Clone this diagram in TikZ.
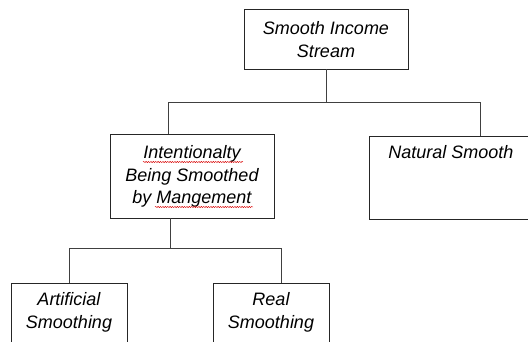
\documentclass[tikz,border=0pt]{standalone}
\usepackage{fontspec}
\setmainfont{Liberation Sans}
\usetikzlibrary{decorations.pathmorphing}
\begin{document}
\begin{tikzpicture}[x=1pt,y=-1pt,
  box/.style={draw=black!85, line width=0.9pt, inner sep=0pt, fill=white},
  txt/.style={anchor=north, inner sep=0pt, align=center,
    font=\fontsize{18}{22.5}\selectfont\itshape},
  link/.style={draw=black!75, line width=0.9pt},
  spell/.style={draw=red!85!black, line width=0.45pt,
    decorate, decoration={snake, amplitude=0.6pt, segment length=2.4pt}}]
\useasboundingbox (0,0) rectangle (528,342);
\clip (0,0) rectangle (528,342);
\node[box, minimum width=164pt, minimum height=60pt] (top) at (326,39) {};
\node[box, minimum width=164pt, minimum height=84pt] (mid) at (192,176) {};
\node[box, minimum width=164pt, minimum height=83pt] (nat) at (451,177.5) {};
\node[box, minimum width=116pt, minimum height=64pt] (art) at (69,315) {};
\node[box, minimum width=116pt, minimum height=64pt] (real) at (271,315) {};
\node[txt] (toptext) at ([yshift=-13pt]top.north) {Smooth Income\\Stream};
\node[txt] (midtext) at ([yshift=-12pt]mid.north) {Intentionalty\\Being Smoothed\\by Mangement};
\node[txt] (nattext) at ([yshift=-10pt]nat.north) {Natural Smooth};
\node[txt] (arttext) at ([yshift=-10pt]art.north) {Artificial\\Smoothing};
\node[txt] (realtext) at ([yshift=-10pt]real.north) {Real\\Smoothing};
\coordinate (w1a) at (143,162); \coordinate (w1b) at (243,162);
\coordinate (w2a) at (155,207); \coordinate (w2b) at (253,207);
\draw[spell] (w1a) -- (w1b);
\draw[spell] (w2a) -- (w2b);
\draw[link] (top.south) -- ++(0,33) -| ([xshift=-24pt]mid.north);
\draw[link] (top.south) -- ++(0,33) -| ([xshift=29pt]nat.north);
\draw[link] ([xshift=-22pt]mid.south) -- ++(0,30) -| (art.north);
\draw[link] ([xshift=-22pt]mid.south) -- ++(0,30) -| ([xshift=10pt]real.north);
\end{tikzpicture}
\end{document}
